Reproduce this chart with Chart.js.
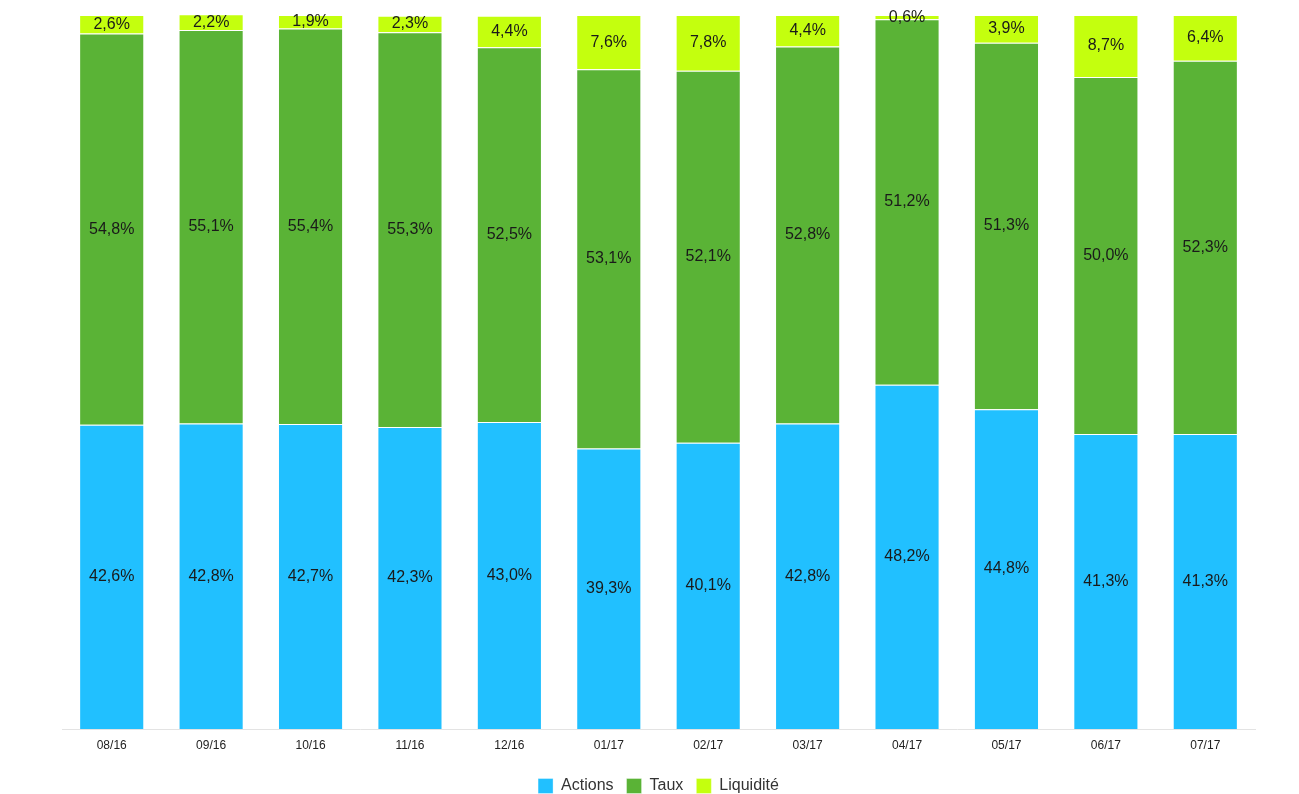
<!DOCTYPE html>
<html>
<head>
<meta charset="utf-8">
<script src="https://cdn.jsdelivr.net/npm/chart.js@4"></script>
<style>
  html, body { margin: 0; padding: 0; background: #fff; }
  #wrap { width: 1299px; height: 794px; }
</style>
</head>
<body>
<div id="wrap"><canvas id="chart"></canvas></div>
<script>
// catégories (mois)
const mois = ['08/16', '09/16', '10/16', '11/16', '12/16', '01/17', '02/17', '03/17', '04/17', '05/17', '06/17', '07/17'];
// répartition en %
const actions   = [42.6, 42.8, 42.7, 42.3, 43.0, 39.3, 40.1, 42.8, 48.2, 44.8, 41.3, 41.3];
const taux      = [54.8, 55.1, 55.4, 55.3, 52.5, 53.1, 52.1, 52.8, 51.2, 51.3, 50.0, 52.3];
const liquidite = [2.6, 2.2, 1.9, 2.3, 4.4, 7.6, 7.8, 4.4, 0.6, 3.9, 8.7, 6.4];

const fmt = v => v.toFixed(1).replace('.', ',') + '%';

// étiquettes au centre de chaque segment
const segmentLabels = {
  id: 'segmentLabels',
  afterDatasetsDraw(chart) {
    const ctx = chart.ctx;
    ctx.save();
    ctx.font = '16px "Liberation Sans", Arial, sans-serif';
    ctx.fillStyle = '#1a1a1a';
    ctx.textAlign = 'center';
    ctx.textBaseline = 'middle';
    chart.data.datasets.forEach((ds, i) => {
      chart.getDatasetMeta(i).data.forEach((bar, j) => {
        const y = (bar.y + bar.base) / 2;
        ctx.fillText(fmt(ds.data[j]), bar.x, y);
      });
    });
    ctx.restore();
  }
};

const ctx = document.getElementById('chart').getContext('2d');
new Chart(ctx, {
  type: 'bar',
  data: {
    labels: mois,
    datasets: [
      { label: 'Actions', data: actions, backgroundColor: '#21c0ff', borderColor: 'rgba(255,255,255,0.35)', borderWidth: 1 },
      { label: 'Taux', data: taux, backgroundColor: '#5ab336', borderColor: 'rgba(255,255,255,0.35)', borderWidth: 1 },
      { label: 'Liquidité', data: liquidite, backgroundColor: '#c4ff0e', borderColor: 'rgba(255,255,255,0.35)', borderWidth: 1 }
    ]
  },
  options: {
    responsive: true,
    maintainAspectRatio: false,
    animation: false,
    layout: { padding: { left: 62, right: 44, top: 15, bottom: -10 } },
    datasets: { bar: { categoryPercentage: 1, barPercentage: 0.655 } },
    plugins: {
      legend: {
        position: 'bottom',
        labels: {
          boxWidth: 15,
          boxHeight: 15,
          padding: 13,
          color: '#333',
          font: { family: '"Liberation Sans", Arial, sans-serif', size: 16 }
        }
      },
      tooltip: { enabled: false }
    },
    scales: {
      x: {
        stacked: true,
        grid: { display: false },
        border: { display: true, color: '#e3e3e3' },
        ticks: { color: '#222', padding: 1, font: { family: '"Liberation Sans", Arial, sans-serif', size: 12 } },
        afterFit(scale) { scale.height = 36; }
      },
      y: {
        stacked: true,
        display: false,
        min: 0,
        max: 100
      }
    }
  },
  plugins: [segmentLabels]
});
</script>
</body>
</html>
